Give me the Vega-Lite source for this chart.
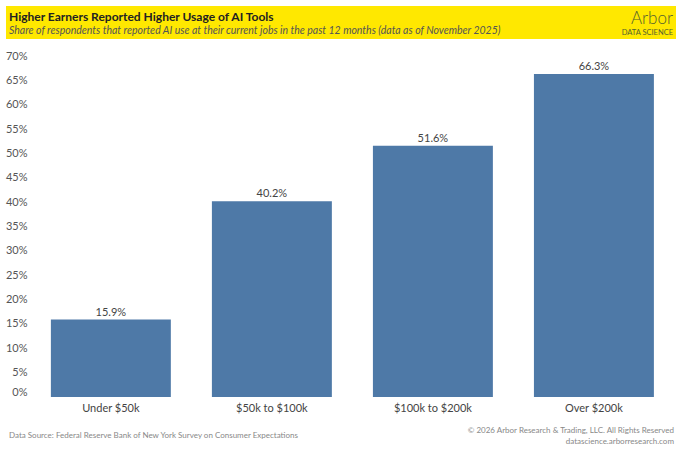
{
  "$schema": "https://vega.github.io/schema/vega-lite/v6.json",
  "background": "white",
  "padding": {"left": 5, "right": 5, "top": 6, "bottom": 5},
  "spacing": 11,
  "config": {
    "view": {"stroke": null},
    "font": "Lato",
    "axis": {"labelFont": "Lato"}
  },
  "vconcat": [
    {
      "spacing": 0,
      "hconcat": [
        {
          "width": 590,
          "height": 33,
          "view": {"fill": "#FFE800", "stroke": null},
          "data": {"values": []},
          "mark": "point",
          "title": {
            "text": "Higher Earners Reported Higher Usage of AI Tools",
            "subtitle": "Share of respondents that reported AI use at their current jobs in the past 12 months (data as of November 2025)",
            "anchor": "start",
            "orient": "top",
            "frame": "group",
            "offset": -31,
            "dx": 3,
            "font": "Lato",
            "fontSize": 12,
            "fontWeight": "bold",
            "color": "#222222",
            "subtitleFont": "Lato",
            "subtitleFontSize": 10.5,
            "subtitleFontStyle": "italic",
            "subtitleColor": "#555555",
            "subtitlePadding": 2
          }
        },
        {
          "width": 80,
          "height": 33,
          "view": {"fill": "#FFE800", "stroke": null},
          "data": {"values": []},
          "mark": "point",
          "title": {
            "text": "Arbor",
            "subtitle": "DATA SCIENCE",
            "anchor": "end",
            "orient": "top",
            "frame": "group",
            "offset": -31,
            "dx": -3,
            "font": "Lato",
            "fontSize": 17,
            "fontWeight": 300,
            "color": "#55622E",
            "subtitleFont": "Lato",
            "subtitleFontSize": 7.5,
            "subtitleColor": "#55622E",
            "subtitlePadding": 1
          }
        }
      ]
    },
    {
      "width": 670,
      "height": 341,
      "data": {
        "values": [
          {"bracket": "Under $50k", "share": 0.159},
          {"bracket": "$50k to $100k", "share": 0.402},
          {"bracket": "$100k to $200k", "share": 0.516},
          {"bracket": "Over $200k", "share": 0.663}
        ]
      },
      "encoding": {
        "x": {
          "field": "bracket",
          "type": "nominal",
          "sort": null,
          "scale": {"paddingInner": 0.255, "paddingOuter": 0.208, "align": 0.67},
          "axis": {
            "title": null,
            "labelAngle": 0,
            "domain": false,
            "ticks": false,
            "labelFontSize": 11,
            "labelColor": "#444444",
            "labelPadding": 5
          }
        },
        "y": {
          "field": "share",
          "type": "quantitative",
          "scale": {"domain": [0, 0.7], "nice": false},
          "axis": {
            "title": null,
            "format": ".0%",
            "values": [0, 0.05, 0.1, 0.15, 0.2, 0.25, 0.3, 0.35, 0.4, 0.45, 0.5, 0.55, 0.6, 0.65, 0.7],
            "grid": false,
            "domain": false,
            "ticks": false,
            "offset": -25,
            "labelPadding": 4,
            "labelFontSize": 11,
            "labelColor": "#555555",
            "labelBaseline": {"condition": {"test": "datum.value === 0", "value": "bottom"}, "value": "middle"}
          }
        }
      },
      "layer": [
        {"mark": {"type": "bar", "color": "#4E79A7"}},
        {
          "mark": {"type": "text", "dy": -7, "fontSize": 11, "color": "#444444"},
          "encoding": {"text": {"field": "share", "type": "quantitative", "format": ".1%"}}
        }
      ]
    },
    {
      "spacing": 0,
      "hconcat": [
        {
          "width": 400,
          "height": 1,
          "data": {"values": []},
          "mark": "point",
          "title": {
            "text": "Data Source: Federal Reserve Bank of New York Survey on Consumer Expectations",
            "anchor": "start",
            "orient": "bottom",
            "offset": 7,
            "dx": 3,
            "font": "Lato",
            "fontSize": 8,
            "fontWeight": "normal",
            "color": "#888888"
          }
        },
        {
          "width": 270,
          "height": 1,
          "data": {"values": []},
          "mark": "point",
          "title": {
            "text": ["© 2026 Arbor Research & Trading, LLC. All Rights Reserved", "datascience.arborresearch.com"],
            "anchor": "end",
            "orient": "bottom",
            "offset": 2,
            "dx": -2,
            "font": "Lato",
            "fontSize": 8,
            "fontWeight": "normal",
            "lineHeight": 11,
            "color": "#888888"
          }
        }
      ]
    }
  ]
}
